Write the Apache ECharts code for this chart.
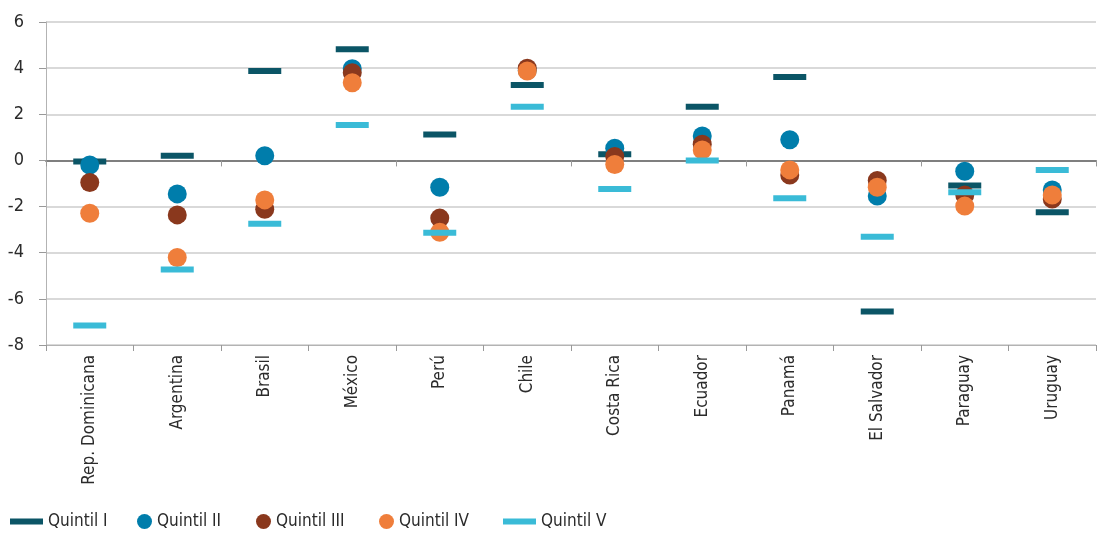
<!DOCTYPE html>
<html>
<head>
<meta charset="utf-8">
<script src="https://cdn.jsdelivr.net/npm/echarts@6/dist/echarts.min.js"></script>
<style>
  html, body { margin: 0; padding: 0; background: #fff; }
  #main { width: 1097px; height: 533px; }
</style>
</head>
<body>
<div id="main"></div>
<script>
    var countries = ['Rep. Dominicana', 'Argentina', 'Brasil', 'México', 'Perú', 'Chile',
        'Costa Rica', 'Ecuador', 'Panamá', 'El Salvador', 'Paraguay', 'Uruguay'];
    var quintil1 = [-0.05, 0.2, 3.88, 4.82, 1.12, 3.27, 0.27, 2.33, 3.62, -6.55, -1.09, -2.25];
    var quintil2 = [-0.2, -1.45, 0.2, 3.97, -1.16, 3.9, 0.53, 1.06, 0.9, -1.54, -0.47, -1.28];
    var quintil3 = [-0.96, -2.36, -2.12, 3.8, -2.5, 4.0, 0.17, 0.7, -0.63, -0.87, -1.5, -1.67];
    var quintil4 = [-2.29, -4.21, -1.71, 3.37, -3.11, 3.88, -0.18, 0.45, -0.41, -1.16, -1.98, -1.5];
    var quintil5 = [-7.16, -4.73, -2.74, 1.54, -3.13, 2.33, -1.24, 0.0, -1.64, -3.31, -1.38, -0.41];
    var yTicks = [-8, -6, -4, -2, 0, 2, 4, 6];

    var font = "'Liberation Sans Narrow', 'DejaVu Sans Condensed', 'Roboto', sans-serif";
    var txt = '#2b2b2b';

    var myChart = echarts.init(document.getElementById('main'));

    function dash(name, data, color) {
        return {
            name: name,
            type: 'scatter',
            symbol: 'rect',
            symbolSize: [33, 6],
            data: data,
            itemStyle: { color: color, opacity: 1 },
            animation: false
        };
    }
    function dot(name, data, color) {
        return {
            name: name,
            type: 'scatter',
            symbol: 'circle',
            symbolSize: 19,
            data: data,
            itemStyle: { color: color, opacity: 1 },
            animation: false
        };
    }
    // una leyenda por serie, para colocar cada icono donde va
    function leg(name, left, icon, w, h) {
        return {
            data: [{ name: name, icon: icon }],
            left: left - 5,
            top: 508,
            itemWidth: w,
            itemHeight: h,
            itemGap: 0,
            textStyle: { fontFamily: font, fontSize: 17, color: txt },
            selectedMode: false
        };
    }

    myChart.setOption({
        backgroundColor: '#fff',
        animation: false,
        grid: {
            left: 46,
            right: 1,
            top: 22,
            bottom: 188
        },
        legend: [
            leg('Quintil I', 10, 'rect', 33, 6),
            leg('Quintil II', 137, 'circle', 15, 15),
            leg('Quintil III', 256, 'circle', 15, 15),
            leg('Quintil IV', 379, 'circle', 15, 15),
            leg('Quintil V', 503, 'rect', 33, 6)
        ],
        xAxis: [{
            type: 'category',
            data: countries,
            position: 'bottom',
            axisLine: { onZero: false, lineStyle: { color: '#b3b3b3', width: 1 } },
            axisTick: { show: true, length: 6, lineStyle: { color: '#999' } },
            axisLabel: {
                rotate: 90,
                margin: 10,
                fontFamily: font,
                fontSize: 17,
                color: txt
            },
            splitLine: { show: false }
        }, {
            type: 'category',
            data: countries,
            position: 'bottom',
            axisLine: { onZero: true, lineStyle: { color: '#7f7f7f', width: 2 } },
            axisTick: { show: true, length: 6, lineStyle: { color: '#999' } },
            axisLabel: { show: false },
            splitLine: { show: false }
        }],
        yAxis: {
            type: 'value',
            min: yTicks[0],
            max: yTicks[yTicks.length - 1],
            interval: 2,
            axisLine: { show: true, lineStyle: { color: '#b3b3b3' } },
            axisTick: { show: true, length: 7, lineStyle: { color: '#999' } },
            axisLabel: {
                margin: 22,
                fontFamily: font,
                fontSize: 18,
                color: txt
            },
            splitLine: { show: true, lineStyle: { color: '#cccccc', width: 1.5 } }
        },
        series: [
            dash('Quintil I', quintil1, '#0b5566'),
            dot('Quintil II', quintil2, '#007dab'),
            dot('Quintil III', quintil3, '#8a381d'),
            dot('Quintil IV', quintil4, '#ef7e3b'),
            dash('Quintil V', quintil5, '#3abbd7')
        ]
    });
</script>
</body>
</html>
